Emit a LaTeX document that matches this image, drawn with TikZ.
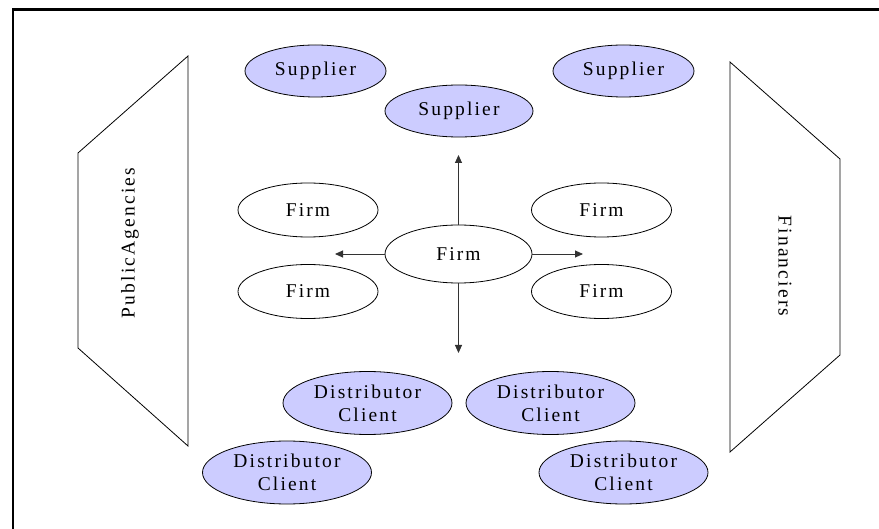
\documentclass[tikz,border=0pt]{standalone}
\usepackage{fontspec}
\setmainfont{Liberation Serif}[LetterSpace=11]
\usetikzlibrary{shapes.geometric,arrows.meta}
\definecolor{lav}{HTML}{CCCCFF}
\begin{document}
\begin{tikzpicture}[x=1pt,y=-1pt,
  every node/.style={font=\fontsize{19.5}{23}\selectfont},
  blob/.style={ellipse,draw=black,line width=0.8pt,inner sep=0pt,align=center},
  supp/.style={blob,fill=lav,minimum width=141pt,minimum height=52pt},
  firmbox/.style={blob,fill=white,minimum width=140pt,minimum height=54pt},
  distbox/.style={blob,fill=lav,minimum width=169pt,minimum height=63pt},
  flow/.style={draw=black!80,line width=0.9pt,-{Triangle[length=8pt,width=7pt]}},
  panel/.style={draw=black,line width=0.8pt}]
\useasboundingbox (0,0) rectangle (879,529);
% frame (only top and left edges visible)
\draw[line width=2.4pt] (13,529) -- (13,9.5) -- (879,9.5);
% side panels
\draw[panel] (188,56) -- (78,153) -- (78,348) -- (188,446) -- cycle;
\draw[panel] (730,62) -- (840,159) -- (840,355) -- (730,452) -- cycle;
\node[rotate=90] (pub) at (130,243) {PublicAgencies};
\node[rotate=-90] (fin) at (785,266) {Financiers};
% suppliers
\node[supp] (s1) at (315.5,71) {Supplier};
\node[supp] (s2) at (623.5,71) {Supplier};
\node[supp,minimum width=148pt] (s3) at (459,111) {Supplier};
% firms
\node[firmbox,minimum width=147pt,minimum height=58pt] (f0) at (458.5,254) {Firm};
\node[firmbox] (f1) at (308,210) {Firm};
\node[firmbox] (f2) at (601.5,210) {Firm};
\node[firmbox] (f3) at (308,291.5) {Firm};
\node[firmbox] (f4) at (601.5,291.5) {Firm};
% distributors
\node[distbox] (d1) at (367.5,403) {Distributor\\Client};
\node[distbox] (d2) at (550.5,403) {Distributor\\Client};
\node[distbox] (d3) at (287,472.5) {Distributor\\Client};
\node[distbox] (d4) at (623.5,472.5) {Distributor\\Client};
% arrow ends
\coordinate (up) at (458.5,155);
\coordinate (dn) at (458.5,353);
\coordinate (lt) at (335,254);
\coordinate (rt) at (583,254);
\draw[flow] (f0.north) -- (up);
\draw[flow] (f0.south) -- (dn);
\draw[flow] (f0.west) -- (lt);
\draw[flow] (f0.east) -- (rt);
\end{tikzpicture}
\end{document}
